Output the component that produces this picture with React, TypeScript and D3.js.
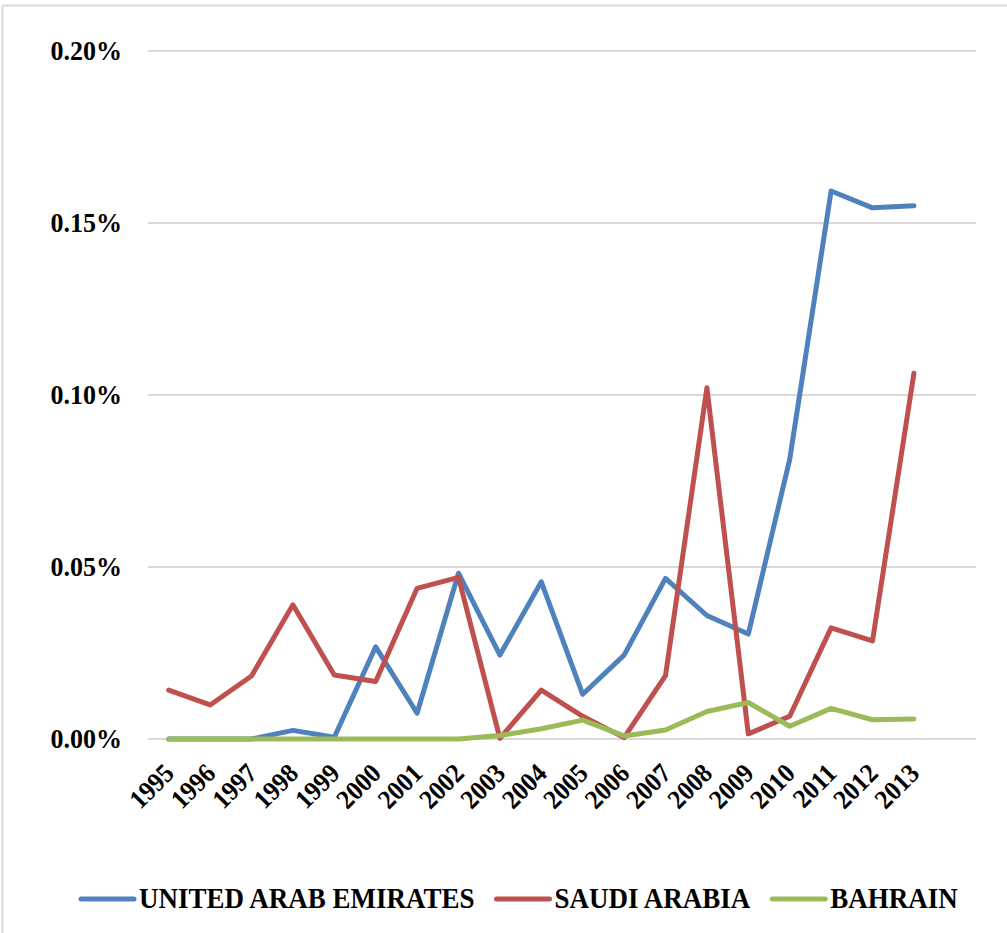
import React, { useEffect, useRef } from "react";
import * as d3 from "d3";

const years = ["1995","1996","1997","1998","1999","2000","2001","2002","2003","2004","2005","2006","2007","2008","2009","2010","2011","2012","2013"];
// values in percent
const uae = [0, 0, 0, 0.0025, 0.0005, 0.0268, 0.0075, 0.0482, 0.0244, 0.0457, 0.013, 0.0244, 0.0467, 0.0359, 0.0305, 0.0813, 0.1593, 0.1544, 0.155];
const saudi = [0.0142, 0.0099, 0.0183, 0.039, 0.0186, 0.0167, 0.0438, 0.047, 0.0002, 0.0142, 0.0066, 0.0004, 0.0184, 0.1021, 0.0015, 0.0066, 0.0323, 0.0285, 0.1063];
const bahrain = [0, 0, 0, 0, 0, 0, 0, 0, 0.001, 0.003, 0.0055, 0.0009, 0.0026, 0.008, 0.0106, 0.0037, 0.0089, 0.0056, 0.0058];
const yTicks = [0, 0.05, 0.1, 0.15, 0.2];
const seriesNames = ["UNITED ARAB EMIRATES", "SAUDI ARABIA", "BAHRAIN"];
const seriesColors = ["#4F81BD", "#C0504D", "#9BBB59"];

const W = 1007;
const H = 933;
const FONT = "'Times New Roman', 'Liberation Serif', serif";

export default function App() {
  const ref = useRef<SVGSVGElement>(null);
  useEffect(() => {
    const svg = d3.select(ref.current);
    svg.selectAll("*").remove();

    const left = 148, right = 976, top = 51, bottom = 739;
    const band = (right - left) / (years.length + 1);
    const x = d3.scalePoint<string>().domain(years).range([left + band / 2, left + band * (years.length - 0.5)]);
    const y = d3.scaleLinear().domain([0, 0.2]).range([bottom, top]);

    svg.append("rect").attr("x", 0).attr("y", 0).attr("width", W).attr("height", H).attr("fill", "#fff");
    svg.append("path").attr("d", `M2.5,${H} L2.5,5.5 L${W},5.5`).attr("fill", "none").attr("stroke", "#D9D9D9").attr("stroke-width", 2);

    const g = svg.append("g");
    g.selectAll("line.grid").data(yTicks).join("line")
      .attr("x1", left).attr("x2", right)
      .attr("y1", d => y(d)).attr("y2", d => y(d))
      .attr("stroke", "#D9D9D9").attr("stroke-width", 2);

    g.selectAll("text.ytick").data(yTicks).join("text")
      .attr("transform", d => `translate(122,${y(d) + 9}) scale(1,1.08)`)
      .attr("text-anchor", "end")
      .attr("font-family", FONT).attr("font-weight", "bold").attr("font-size", 26)
      .text(d => d3.format(".2f")(d) + "%");

    g.selectAll("text.xtick").data(years).join("text")
      .attr("transform", d => `translate(${(x(d) as number) + 7},${bottom + 36}) rotate(-45) scale(1,1.08)`)
      .attr("text-anchor", "end")
      .attr("font-family", FONT).attr("font-weight", "bold").attr("font-size", 25)
      .text(d => d);

    const allSeries = [uae, saudi, bahrain];
    const line = d3.line<number>().x((_, i) => x(years[i]) as number).y(d => y(d));
    allSeries.forEach((s, i) => {
      g.append("path").datum(s).attr("d", line)
        .attr("fill", "none").attr("stroke", seriesColors[i]).attr("stroke-width", 5)
        .attr("stroke-linejoin", "round").attr("stroke-linecap", "round");
    });

    const lg = svg.append("g");
    let cx = 81;
    const ly = 899;
    seriesNames.forEach((name, i) => {
      lg.append("line").attr("x1", cx).attr("x2", cx + 53).attr("y1", ly).attr("y2", ly)
        .attr("stroke", seriesColors[i]).attr("stroke-width", 5).attr("stroke-linecap", "round");
      const t = lg.append("text")
        .attr("transform", `translate(${cx + 58},${ly + 9}) scale(1,1.1)`)
        .attr("font-family", FONT).attr("font-weight", "bold").attr("font-size", 27)
        .text(name);
      const w = (t.node() as SVGTextElement).getComputedTextLength();
      cx = cx + 58 + w + 22;
    });
  }, []);
  return <svg ref={ref} width={W} height={H} style={{ display: "block", position: "absolute", left: 0, top: 0 }} />;
}
